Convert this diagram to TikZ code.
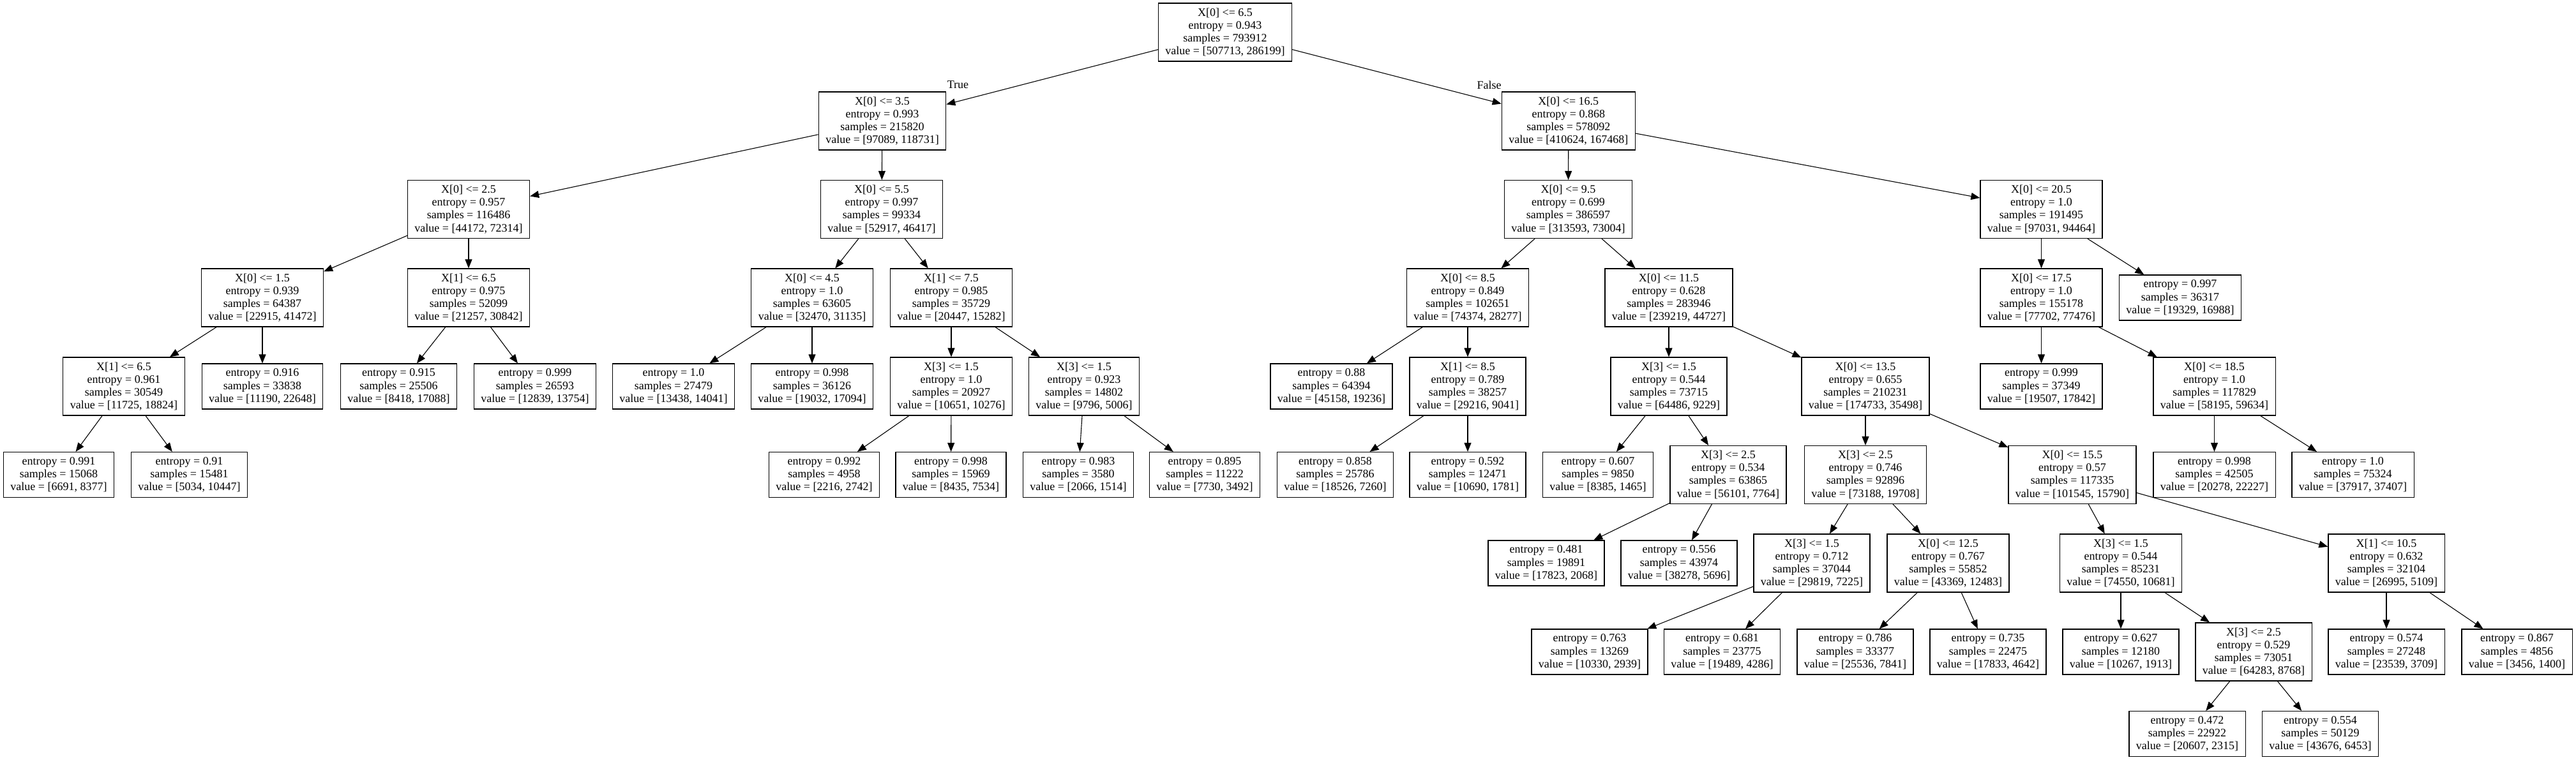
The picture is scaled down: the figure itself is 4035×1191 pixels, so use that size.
\documentclass[tikz,border=0pt]{standalone}
\usepackage{fontspec}
\setmainfont{Liberation Serif}
\usetikzlibrary{arrows.meta}
\tikzset{
  tnode/.style={draw=black, line width=1.2pt, rectangle, align=center, inner xsep=11pt, inner ysep=0pt,
    font=\fontsize{18}{20.2}\selectfont, fill=white},
  splitbox/.style={tnode, minimum height=91pt},
  leafbox/.style={tnode, minimum height=71pt},
  edgeline/.style={draw=black, line width=1.1pt, -{Triangle[length=14pt,width=11pt]}},
  edgelabel/.style={font=\fontsize{18}{20.2}\selectfont}
}
\begin{document}
\begin{tikzpicture}[x=1pt,y=-1pt]
\useasboundingbox[fill=white] (0,0) rectangle (4035,1191);
% level 0
\node[splitbox] (n0) at (1919,50.5) {X[0] <= 6.5\\entropy = 0.943\\samples = 793912\\value = [507713, 286199]};
% level 1
\node[splitbox] (n1) at (1382,189.5) {X[0] <= 3.5\\entropy = 0.993\\samples = 215820\\value = [97089, 118731]};
\node[splitbox] (n2) at (2456.8,189.5) {X[0] <= 16.5\\entropy = 0.868\\samples = 578092\\value = [410624, 167468]};
% level 2
\node[splitbox] (n3) at (734,328) {X[0] <= 2.5\\entropy = 0.957\\samples = 116486\\value = [44172, 72314]};
\node[splitbox] (n4) at (1381,328) {X[0] <= 5.5\\entropy = 0.997\\samples = 99334\\value = [52917, 46417]};
\node[splitbox] (n5) at (2456.5,328) {X[0] <= 9.5\\entropy = 0.699\\samples = 386597\\value = [313593, 73004]};
\node[splitbox] (n6) at (3197.5,328) {X[0] <= 20.5\\entropy = 1.0\\samples = 191495\\value = [97031, 94464]};
% level 3
\node[splitbox] (n7) at (411,466.5) {X[0] <= 1.5\\entropy = 0.939\\samples = 64387\\value = [22915, 41472]};
\node[splitbox] (n8) at (734,466.5) {X[1] <= 6.5\\entropy = 0.975\\samples = 52099\\value = [21257, 30842]};
\node[splitbox] (n9) at (1272,466.5) {X[0] <= 4.5\\entropy = 1.0\\samples = 63605\\value = [32470, 31135]};
\node[splitbox] (n10) at (1490,466.5) {X[1] <= 7.5\\entropy = 0.985\\samples = 35729\\value = [20447, 15282]};
\node[splitbox] (n11) at (2299,466.5) {X[0] <= 8.5\\entropy = 0.849\\samples = 102651\\value = [74374, 28277]};
\node[splitbox] (n12) at (2614,466.5) {X[0] <= 11.5\\entropy = 0.628\\samples = 283946\\value = [239219, 44727]};
\node[splitbox] (n13) at (3197.5,466.5) {X[0] <= 17.5\\entropy = 1.0\\samples = 155178\\value = [77702, 77476]};
\node[leafbox] (n14) at (3415,466.5) {entropy = 0.997\\samples = 36317\\value = [19329, 16988]};
% level 4
\node[splitbox] (n15) at (194,605.5) {X[1] <= 6.5\\entropy = 0.961\\samples = 30549\\value = [11725, 18824]};
\node[leafbox] (n16) at (411,605.5) {entropy = 0.916\\samples = 33838\\value = [11190, 22648]};
\node[leafbox] (n17) at (624.5,605.5) {entropy = 0.915\\samples = 25506\\value = [8418, 17088]};
\node[leafbox] (n18) at (838,605.5) {entropy = 0.999\\samples = 26593\\value = [12839, 13754]};
\node[leafbox] (n19) at (1055,605.5) {entropy = 1.0\\samples = 27479\\value = [13438, 14041]};
\node[leafbox] (n20) at (1272,605.5) {entropy = 0.998\\samples = 36126\\value = [19032, 17094]};
\node[splitbox] (n21) at (1490,605.5) {X[3] <= 1.5\\entropy = 1.0\\samples = 20927\\value = [10651, 10276]};
\node[splitbox] (n22) at (1698,605.5) {X[3] <= 1.5\\entropy = 0.923\\samples = 14802\\value = [9796, 5006]};
\node[leafbox] (n23) at (2085.5,605.5) {entropy = 0.88\\samples = 64394\\value = [45158, 19236]};
\node[splitbox] (n24) at (2299,605.5) {X[1] <= 8.5\\entropy = 0.789\\samples = 38257\\value = [29216, 9041]};
\node[splitbox] (n25) at (2614,605.5) {X[3] <= 1.5\\entropy = 0.544\\samples = 73715\\value = [64486, 9229]};
\node[splitbox] (n26) at (2922,605.5) {X[0] <= 13.5\\entropy = 0.655\\samples = 210231\\value = [174733, 35498]};
\node[leafbox] (n27) at (3197.5,605.5) {entropy = 0.999\\samples = 37349\\value = [19507, 17842]};
\node[splitbox] (n28) at (3468.5,605.5) {X[0] <= 18.5\\entropy = 1.0\\samples = 117829\\value = [58195, 59634]};
% level 5
\node[leafbox] (n29) at (92,744) {entropy = 0.991\\samples = 15068\\value = [6691, 8377]};
\node[leafbox] (n30) at (296.5,744) {entropy = 0.91\\samples = 15481\\value = [5034, 10447]};
\node[leafbox] (n31) at (1291,744) {entropy = 0.992\\samples = 4958\\value = [2216, 2742]};
\node[leafbox] (n32) at (1489.5,744) {entropy = 0.998\\samples = 15969\\value = [8435, 7534]};
\node[leafbox] (n33) at (1689,744) {entropy = 0.983\\samples = 3580\\value = [2066, 1514]};
\node[leafbox] (n34) at (1887,744) {entropy = 0.895\\samples = 11222\\value = [7730, 3492]};
\node[leafbox] (n35) at (2091.5,744) {entropy = 0.858\\samples = 25786\\value = [18526, 7260]};
\node[leafbox] (n36) at (2299,744) {entropy = 0.592\\samples = 12471\\value = [10690, 1781]};
\node[leafbox] (n37) at (2503,744) {entropy = 0.607\\samples = 9850\\value = [8385, 1465]};
\node[splitbox] (n38) at (2707,744) {X[3] <= 2.5\\entropy = 0.534\\samples = 63865\\value = [56101, 7764]};
\node[splitbox] (n39) at (2922,744) {X[3] <= 2.5\\entropy = 0.746\\samples = 92896\\value = [73188, 19708]};
\node[splitbox] (n40) at (3246,744) {X[0] <= 15.5\\entropy = 0.57\\samples = 117335\\value = [101545, 15790]};
\node[leafbox] (n41) at (3468.5,744) {entropy = 0.998\\samples = 42505\\value = [20278, 22227]};
\node[leafbox] (n42) at (3685.5,744) {entropy = 1.0\\samples = 75324\\value = [37917, 37407]};
% level 6
\node[leafbox] (n43) at (2422,882.5) {entropy = 0.481\\samples = 19891\\value = [17823, 2068]};
\node[leafbox] (n44) at (2630,882.5) {entropy = 0.556\\samples = 43974\\value = [38278, 5696]};
\node[splitbox] (n45) at (2838,882.5) {X[3] <= 1.5\\entropy = 0.712\\samples = 37044\\value = [29819, 7225]};
\node[splitbox] (n46) at (3051.5,882.5) {X[0] <= 12.5\\entropy = 0.767\\samples = 55852\\value = [43369, 12483]};
\node[splitbox] (n47) at (3322,882.5) {X[3] <= 1.5\\entropy = 0.544\\samples = 85231\\value = [74550, 10681]};
\node[splitbox] (n48) at (3738,882.5) {X[1] <= 10.5\\entropy = 0.632\\samples = 32104\\value = [26995, 5109]};
% level 7
\node[leafbox] (n49) at (2490,1021.5) {entropy = 0.763\\samples = 13269\\value = [10330, 2939]};
\node[leafbox] (n50) at (2697.5,1021.5) {entropy = 0.681\\samples = 23775\\value = [19489, 4286]};
\node[leafbox] (n51) at (2906,1021.5) {entropy = 0.786\\samples = 33377\\value = [25536, 7841]};
\node[leafbox] (n52) at (3114,1021.5) {entropy = 0.735\\samples = 22475\\value = [17833, 4642]};
\node[leafbox] (n53) at (3322,1021.5) {entropy = 0.627\\samples = 12180\\value = [10267, 1913]};
\node[splitbox] (n54) at (3530,1021.5) {X[3] <= 2.5\\entropy = 0.529\\samples = 73051\\value = [64283, 8768]};
\node[leafbox] (n55) at (3738,1021.5) {entropy = 0.574\\samples = 27248\\value = [23539, 3709]};
\node[leafbox] (n56) at (3942.5,1021.5) {entropy = 0.867\\samples = 4856\\value = [3456, 1400]};
% level 8
\node[leafbox] (n57) at (3426,1150) {entropy = 0.472\\samples = 22922\\value = [20607, 2315]};
\node[leafbox] (n58) at (3634.5,1150) {entropy = 0.554\\samples = 50129\\value = [43676, 6453]};
% edge labels
\node[edgelabel] (ltrue) at (1500.5,133) {True};
\node[edgelabel] (lfalse) at (2332.6,133) {False};
% edges
\foreach \a/\b in {n0/n1,n0/n2,n1/n3,n1/n4,n2/n5,n2/n6,n3/n7,n3/n8,n4/n9,n4/n10,n5/n11,n5/n12,n6/n13,n6/n14,
  n7/n15,n7/n16,n8/n17,n8/n18,n9/n19,n9/n20,n10/n21,n10/n22,n11/n23,n11/n24,n12/n25,n12/n26,n13/n27,n13/n28,
  n15/n29,n15/n30,n21/n31,n21/n32,n22/n33,n22/n34,n24/n35,n24/n36,n25/n37,n25/n38,n26/n39,n26/n40,n28/n41,n28/n42,
  n38/n43,n38/n44,n39/n45,n39/n46,n40/n47,n40/n48,n45/n49,n45/n50,n46/n51,n46/n52,n47/n53,n47/n54,n48/n55,n48/n56,
  n54/n57,n54/n58}
  \draw[edgeline] (\a) -- (\b);
\end{tikzpicture}
\end{document}
